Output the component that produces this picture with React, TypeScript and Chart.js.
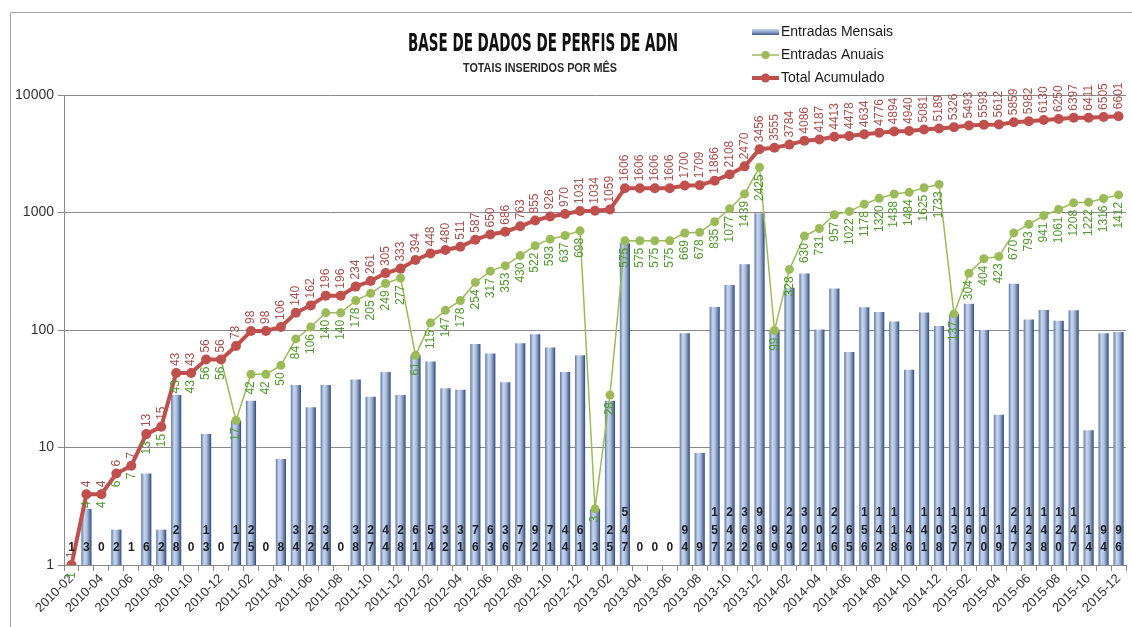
import React, { useEffect, useRef } from "react";
import { Chart, registerables } from "chart.js";

Chart.register(...registerables);

const months: string[] = [
  "2010-02","2010-03","2010-04","2010-05","2010-06","2010-07","2010-08","2010-09","2010-10","2010-11","2010-12",
  "2011-01","2011-02","2011-03","2011-04","2011-05","2011-06","2011-07","2011-08","2011-09","2011-10","2011-11","2011-12",
  "2012-01","2012-02","2012-03","2012-04","2012-05","2012-06","2012-07","2012-08","2012-09","2012-10","2012-11","2012-12",
  "2013-01","2013-02","2013-03","2013-04","2013-05","2013-06","2013-07","2013-08","2013-09","2013-10","2013-11","2013-12",
  "2014-01","2014-02","2014-03","2014-04","2014-05","2014-06","2014-07","2014-08","2014-09","2014-10","2014-11","2014-12",
  "2015-01","2015-02","2015-03","2015-04","2015-05","2015-06","2015-07","2015-08","2015-09","2015-10","2015-11","2015-12",
];

const entradasMensais: number[] = [
  1, 3, 0, 2, 1, 6, 2, 28, 0, 13, 0,
  17, 25, 0, 8, 34, 22, 34, 0, 38, 27, 44, 28,
  61, 54, 32, 31, 76, 63, 36, 77, 92, 71, 44, 61,
  3, 25, 547, 0, 0, 0, 94, 9, 157, 242, 362, 986,
  99, 229, 302, 101, 226, 65, 156, 142, 118, 46, 141, 108,
  137, 167, 100, 19, 247, 123, 148, 120, 147, 14, 94, 96,
];

const entradasAnuais: number[] = [
  1, 4, 4, 6, 7, 13, 15, 43, 43, 56, 56,
  17, 42, 42, 50, 84, 106, 140, 140, 178, 205, 249, 277,
  61, 115, 147, 178, 254, 317, 353, 430, 522, 593, 637, 698,
  3, 28, 575, 575, 575, 575, 669, 678, 835, 1077, 1439, 2425,
  99, 328, 630, 731, 957, 1022, 1178, 1320, 1438, 1484, 1625, 1733,
  137, 304, 404, 423, 670, 793, 941, 1061, 1208, 1222, 1316, 1412,
];

const totalAcumulado: number[] = [
  1, 4, 4, 6, 7, 13, 15, 43, 43, 56, 56,
  73, 98, 98, 106, 140, 162, 196, 196, 234, 261, 305, 333,
  394, 448, 480, 511, 587, 650, 686, 763, 855, 926, 970, 1031,
  1034, 1059, 1606, 1606, 1606, 1606, 1700, 1709, 1866, 2108, 2470, 3456,
  3555, 3784, 4086, 4187, 4413, 4478, 4634, 4776, 4894, 4940, 5081, 5189,
  5326, 5493, 5593, 5612, 5859, 5982, 6130, 6250, 6397, 6411, 6505, 6601,
];

const yTicks: number[] = [1, 10, 100, 1000, 10000];

const titleText = "BASE DE DADOS DE PERFIS DE ADN";
const subtitleText = "TOTAIS INSERIDOS POR MÊS";
const seriesNames = ["Entradas Mensais", "Entradas Anuais", "Total Acumulado"];

const RED = "#c0504d";
const GREEN = "#9bbb59";
const RED_LABEL = "#a8514c";
const GREEN_LABEL = "#4f9a2c";
const BAR_PCT = 0.68;

function barGradient(ctx: CanvasRenderingContext2D, x0: number, x1: number) {
  const g = ctx.createLinearGradient(x0, 0, x1, 0);
  g.addColorStop(0, "#5f78a8");
  g.addColorStop(0.3, "#c9d6ec");
  g.addColorStop(0.55, "#aebfdc");
  g.addColorStop(0.85, "#5a73a2");
  g.addColorStop(1, "#2f4670");
  return g;
}

const decorPlugin = {
  id: "decor",
  beforeDraw(chart: any) {
    const ctx = chart.ctx as CanvasRenderingContext2D;
    ctx.save();
    ctx.strokeStyle = "#a0a0a0";
    ctx.lineWidth = 1;
    ctx.beginPath();
    ctx.moveTo(10.5, chart.height);
    ctx.lineTo(10.5, 12.5);
    ctx.lineTo(chart.width, 12.5);
    ctx.stroke();
    ctx.restore();
  },
  afterDatasetsDraw(chart: any) {
    const ctx = chart.ctx as CanvasRenderingContext2D;
    const xs = chart.scales.x;
    const ys = chart.scales.y;
    ctx.save();
    // bar labels: stacked digits at the base
    ctx.fillStyle = "#1e1e1e";
    ctx.font = "bold 12px 'Liberation Sans', Arial, sans-serif";
    ctx.textAlign = "center";
    ctx.textBaseline = "middle";
    const base = chart.chartArea.bottom;
    entradasMensais.forEach((v, i) => {
      const x = xs.getPixelForValue(i);
      const s = String(v);
      for (let k = 0; k < s.length; k++) {
        const y = base - 17 - (s.length - 1 - k) * 17.5;
        ctx.fillText(s[k], x, y);
      }
    });
    ctx.font = "12px 'Liberation Sans', Arial, sans-serif";
    ctx.textBaseline = "middle";
    // green labels below points
    const gMeta = chart.getDatasetMeta(1);
    gMeta.data.forEach((pt: any, i: number) => {
      ctx.save();
      ctx.translate(pt.x, pt.y + 7);
      ctx.rotate(-Math.PI / 2);
      ctx.textAlign = "right";
      ctx.fillStyle = GREEN_LABEL;
      ctx.fillText(String(entradasAnuais[i]), 0, 0);
      ctx.restore();
    });
    // red labels above points
    const rMeta = chart.getDatasetMeta(0);
    rMeta.data.forEach((pt: any, i: number) => {
      ctx.save();
      ctx.translate(pt.x, pt.y - 7);
      ctx.rotate(-Math.PI / 2);
      ctx.textAlign = "left";
      ctx.fillStyle = RED_LABEL;
      ctx.fillText(String(totalAcumulado[i]), 0, 0);
      ctx.restore();
    });
    ctx.restore();
  },
  afterDraw(chart: any) {
    const ctx = chart.ctx as CanvasRenderingContext2D;
    ctx.save();
    // title
    ctx.fillStyle = "#111";
    ctx.textBaseline = "alphabetic";
    ctx.textAlign = "left";
    ctx.font = "bold 25px 'Liberation Sans Narrow', 'DejaVu Sans Condensed', sans-serif";
    let w = ctx.measureText(titleText).width;
    const tW = 270;
    ctx.save();
    ctx.translate(408, 51);
    ctx.scale(tW / w, 1);
    ctx.fillText(titleText, 0, 0);
    ctx.restore();
    // subtitle
    ctx.fillStyle = "#2a2a2a";
    ctx.font = "bold 12px 'Liberation Sans', sans-serif";
    w = ctx.measureText(subtitleText).width;
    ctx.save();
    ctx.translate(463, 72);
    ctx.scale(154 / w, 1);
    ctx.fillText(subtitleText, 0, 0);
    ctx.restore();
    // legend
    const lx0 = 752, lx1 = 779;
    const rows = [32, 55, 78];
    // bar icon
    const gy = ctx.createLinearGradient(0, rows[0] - 3, 0, rows[0] + 3);
    gy.addColorStop(0, "#c9d6ec");
    gy.addColorStop(0.5, "#8da3c9");
    gy.addColorStop(1, "#3f5a8c");
    ctx.fillStyle = gy;
    ctx.fillRect(lx0, rows[0] - 3, lx1 - lx0, 6);
    // green icon
    ctx.strokeStyle = GREEN;
    ctx.lineWidth = 1.5;
    ctx.beginPath();
    ctx.moveTo(lx0, rows[1]);
    ctx.lineTo(lx1, rows[1]);
    ctx.stroke();
    ctx.fillStyle = GREEN;
    ctx.beginPath();
    ctx.arc((lx0 + lx1) / 2, rows[1], 4, 0, Math.PI * 2);
    ctx.fill();
    // red icon
    ctx.strokeStyle = RED;
    ctx.lineWidth = 4;
    ctx.beginPath();
    ctx.moveTo(lx0, rows[2]);
    ctx.lineTo(lx1, rows[2]);
    ctx.stroke();
    ctx.fillStyle = RED;
    ctx.beginPath();
    ctx.arc((lx0 + lx1) / 2, rows[2], 4.5, 0, Math.PI * 2);
    ctx.fill();
    ctx.fillStyle = "#1a1a1a";
    ctx.font = "14px 'Liberation Sans', Arial, sans-serif";
    ctx.textBaseline = "middle";
    seriesNames.forEach((n, i) => ctx.fillText(n, lx1 + 2, rows[i]));
    ctx.restore();
  },
};

export default function App() {
  const ref = useRef<HTMLCanvasElement | null>(null);
  useEffect(() => {
    if (!ref.current) return;
    const chart = new Chart(ref.current, {
      type: "bar",
      data: {
        labels: months,
        datasets: [
          {
            type: "line",
            label: seriesNames[2],
            data: totalAcumulado,
            borderColor: RED,
            backgroundColor: RED,
            borderWidth: 4,
            pointRadius: 5,
            pointBorderWidth: 0,
            pointBackgroundColor: RED,
            order: 1,
          } as any,
          {
            type: "line",
            label: seriesNames[1],
            data: entradasAnuais,
            borderColor: GREEN,
            backgroundColor: GREEN,
            borderWidth: 1.5,
            pointRadius: 4.5,
            pointBorderWidth: 0,
            pointBackgroundColor: GREEN,
            order: 2,
          } as any,
          {
            type: "bar",
            label: seriesNames[0],
            data: entradasMensais,
            categoryPercentage: 1,
            barPercentage: BAR_PCT,
            order: 3,
            backgroundColor: (c: any) => {
              const ch = c.chart;
              const ca = ch.chartArea;
              if (!ca || c.dataIndex === undefined) return "#8da3c9";
              const x = ch.scales.x.getPixelForValue(c.dataIndex);
              const w = ((ca.right - ca.left) / months.length) * BAR_PCT;
              return barGradient(ch.ctx, x - w / 2, x + w / 2);
            },
          } as any,
        ],
      },
      options: {
        animation: false,
        responsive: false,
        maintainAspectRatio: false,
        layout: { padding: { top: 95, right: 6, left: 0, bottom: 0 } },
        plugins: {
          legend: { display: false },
          title: { display: false },
          tooltip: { enabled: false },
        },
        scales: {
          x: {
            offset: true,
            grid: {
              offset: true,
              drawOnChartArea: false,
              drawTicks: true,
              tickLength: 6,
              color: "#8a8a8a",
            },
            border: { color: "#8a8a8a" },
            ticks: {
              autoSkip: false,
              minRotation: 45,
              maxRotation: 45,
              color: "#333",
              padding: 0,
              font: { family: "'Liberation Sans', Arial, sans-serif", size: 13 },
              callback: (_v: any, i: number) => (i % 2 === 0 ? months[i] : ""),
            },
            afterFit: (s: any) => {
              s.height = 62;
              s.paddingLeft = 0;
              s.paddingRight = 0;
            },
          },
          y: {
            type: "logarithmic",
            min: 1,
            max: 10000,
            afterBuildTicks: (s: any) => {
              s.ticks = yTicks.map((v) => ({ value: v }));
            },
            grid: { color: "#8a8a8a", tickLength: 6, drawTicks: true },
            border: { color: "#8a8a8a" },
            ticks: {
              color: "#333",
              padding: 4,
              font: { family: "'Liberation Sans', Arial, sans-serif", size: 14 },
              callback: (v: any) => String(v),
            },
            afterFit: (s: any) => {
              s.width = 64;
              s.paddingTop = 0;
              s.paddingBottom = 0;
            },
          },
        },
      },
      plugins: [decorPlugin],
    });
    return () => chart.destroy();
  }, []);
  return (
    <div style={{ position: "fixed", left: 0, top: 0, width: 1132, height: 627, background: "#fff" }}>
      <canvas ref={ref} width={1132} height={627} style={{ width: 1132, height: 627, display: "block" }} />
    </div>
  );
}
